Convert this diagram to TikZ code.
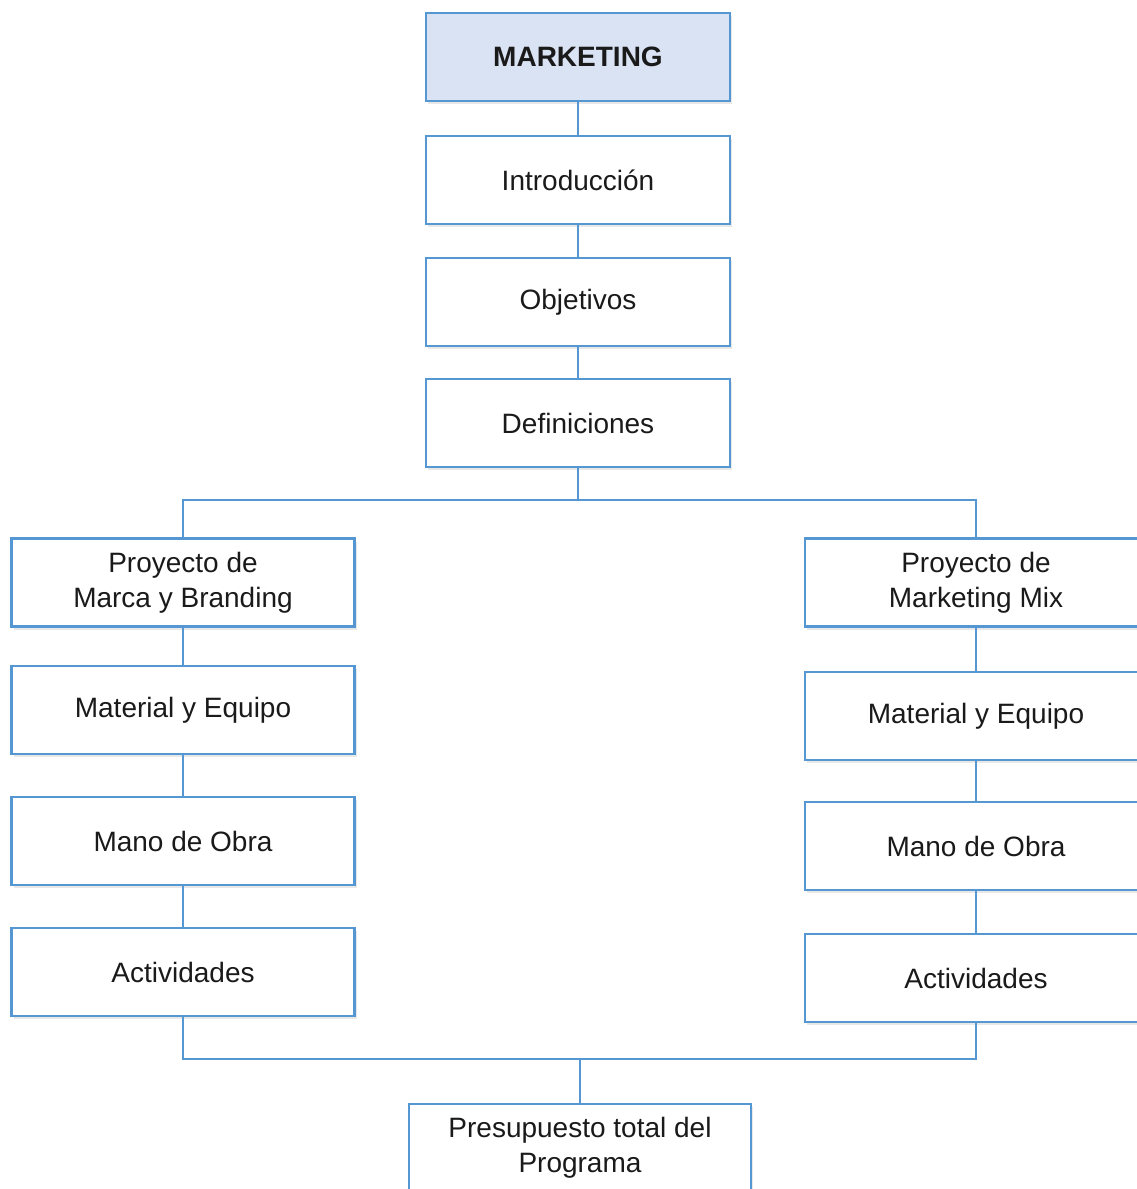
\documentclass[tikz,border=0pt]{standalone}
\usepackage{fontspec}
\setmainfont{Liberation Sans}
\usetikzlibrary{shadows}
\definecolor{edge}{HTML}{5597D2}
\definecolor{headfill}{HTML}{DAE3F3}
\definecolor{ink}{HTML}{1A1A1A}
\begin{document}
\begin{tikzpicture}[x=1pt,y=-1pt,
  box/.style={draw=edge, line width=2.6pt, fill=white, rectangle,
    minimum width=#1, minimum height=88pt, align=center, inner sep=0pt,
    text=ink, font=\fontsize{28}{35}\selectfont,
    drop shadow={opacity=0.18, shadow xshift=2pt, shadow yshift=-3pt}},
  box/.default=304pt,
  link/.style={draw=edge, line width=2.6pt}]
\useasboundingbox (0,0) rectangle (1137,1189);
\begin{scope}
\clip (0,0) rectangle (1137,1189);
% main spine
\node[box, fill=headfill, font=\fontsize{28}{35}\selectfont\bfseries] (mk) at (578,57) {MARKETING};
\node[box] (intro) at (578,180) {Introducción};
\node[box] (obj) at (578,302) {Objetivos};
\node[box] (def) at (578,423) {Definiciones};
% left branch
\node[box=343pt] (lp) at (183,582.5) {Proyecto de\\Marca y Branding};
\node[box=343pt] (lm) at (183,710) {Material y Equipo};
\node[box=343pt] (lo) at (183,841) {Mano de Obra};
\node[box=343pt] (la) at (183,972) {Actividades};
% right branch
\node[box=342pt] (rp) at (976,582.5) {Proyecto de\\Marketing Mix};
\node[box=342pt] (rm) at (976,716) {Material y Equipo};
\node[box=342pt] (ro) at (976,846) {Mano de Obra};
\node[box=342pt] (ra) at (976,978) {Actividades};
% total
\node[box=342pt] (tot) at (580,1148) {Presupuesto total del\\Programa};
\coordinate (split) at (578,500);
\coordinate (join) at (580,1059);
% connectors
\draw[link] (mk.south) -- (intro.north);
\draw[link] (intro.south) -- (obj.north);
\draw[link] (obj.south) -- (def.north);
\draw[link] (def.south) -- (split);
\draw[link] (split) -| (lp.north);
\draw[link] (split) -| (rp.north);
\draw[link] (lp.south) -- (lm.north);
\draw[link] (lm.south) -- (lo.north);
\draw[link] (lo.south) -- (la.north);
\draw[link] (rp.south) -- (rm.north);
\draw[link] (rm.south) -- (ro.north);
\draw[link] (ro.south) -- (ra.north);
\draw[link] (la.south) |- (join);
\draw[link] (ra.south) |- (join);
\draw[link] (join) -- (tot.north);
\end{scope}
\end{tikzpicture}
\end{document}
